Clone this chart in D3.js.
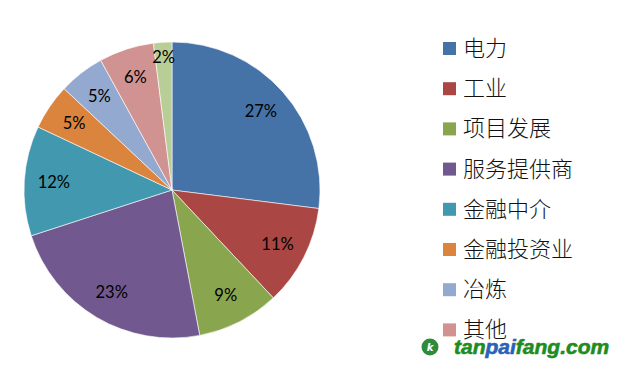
<!DOCTYPE html>
<html>
<head>
<meta charset="utf-8">
<script src="https://cdn.jsdelivr.net/npm/d3@7"></script>
<style>
  html, body { margin: 0; padding: 0; background: #ffffff; }
  svg { display: block; }
</style>
</head>
<body>
<div id="chart"></div>
<script>
// DATA
var categories = ["电力", "工业", "项目发展", "服务提供商", "金融中介", "金融投资业", "冶炼", "其他", "林业"];
var values = [27, 11, 9, 23, 12, 5, 5, 6, 2];
var colors = ["#4572a7", "#aa4643", "#89a54e", "#71588f", "#4198af", "#db843d", "#93a9cf", "#d19392", "#b9cd96"];

// SIZES
var width = 621;
var height = 367;
var cx = 172, cy = 190, radius = 148;
var labelFont = "Lato, 'Open Sans', sans-serif";
var legendFont = "'Noto Sans CJK SC', sans-serif";
var legendTop = 48, legendStep = 40.2;

var svg = d3.select("#chart").append("svg")
  .attr("width", width)
  .attr("height", height);

var pie = d3.pie().sort(null).value(function(d) { return d; });
var arcs = pie(values);
var arc = d3.arc().innerRadius(0).outerRadius(radius);

var g = svg.append("g").attr("transform", `translate(${cx},${cy})`);

g.selectAll("path.slice")
  .data(arcs)
  .enter().append("path")
  .attr("class", "slice")
  .attr("d", arc)
  .attr("fill", function(d, i) { return colors[i]; })
  .attr("stroke", "#ffffff")
  .attr("stroke-width", 0.6);

// labels sit at ~0.8r, tiny slices pushed outwards
g.selectAll("text.lbl")
  .data(arcs)
  .enter().append("text")
  .attr("class", "lbl")
  .attr("transform", function(d) {
    var r = d.data < 3 ? radius * 0.9 : radius * 0.8;
    var c = d3.arc().innerRadius(r).outerRadius(r).centroid(d);
    return `translate(${c[0]},${c[1]})`;
  })
  .attr("text-anchor", "middle")
  .attr("dy", "0.35em")
  .attr("font-family", labelFont)
  .attr("font-size", 16.5)
  .attr("fill", "#000000")
  .text(function(d) { return d.data + "%"; });

// LEGEND (the last entry runs off the bottom of the chart area, as in the original)
var shown = categories.filter(function(d, i) { return legendTop + i * legendStep + 11 < height; });
var legend = svg.append("g").attr("transform", `translate(443,${legendTop})`);
var item = legend.selectAll("g.item")
  .data(shown)
  .enter().append("g")
  .attr("class", "item")
  .attr("transform", function(d, i) { return `translate(0,${i * legendStep})`; });

item.append("rect")
  .attr("x", 0).attr("y", -6)
  .attr("width", 13).attr("height", 13)
  .attr("fill", function(d, i) { return colors[i]; });

item.append("text")
  .attr("x", 20)
  .attr("dy", "0.36em")
  .attr("font-family", legendFont)
  .attr("font-weight", 300)
  .attr("font-size", 22)
  .attr("fill", "#111111")
  .text(function(d) { return d; });

// watermark
var wm = svg.append("g").attr("transform", "translate(430,347)");
wm.append("circle").attr("r", 8.5).attr("fill", "#2e8b3a");
wm.append("text")
  .attr("text-anchor", "middle").attr("dy", "0.35em")
  .attr("font-family", "'DejaVu Sans', sans-serif")
  .attr("font-style", "italic").attr("font-weight", "bold")
  .attr("font-size", 10).attr("fill", "#ffffff")
  .text("k");
var wt = wm.append("text")
  .attr("x", 24).attr("y", 7)
  .attr("font-family", "'Liberation Sans', Arial, sans-serif")
  .attr("font-style", "italic").attr("font-weight", "bold")
  .attr("font-size", 21)
  .attr("stroke", "#1e8c1e").attr("stroke-width", 0.6)
  .attr("fill", "#1e8c1e");
wt.append("tspan").text("tan");
wt.append("tspan").attr("fill", "#2a62b8").attr("stroke", "#2a62b8").text("pai");
wt.append("tspan").text("fang.com");
</script>
</body>
</html>
